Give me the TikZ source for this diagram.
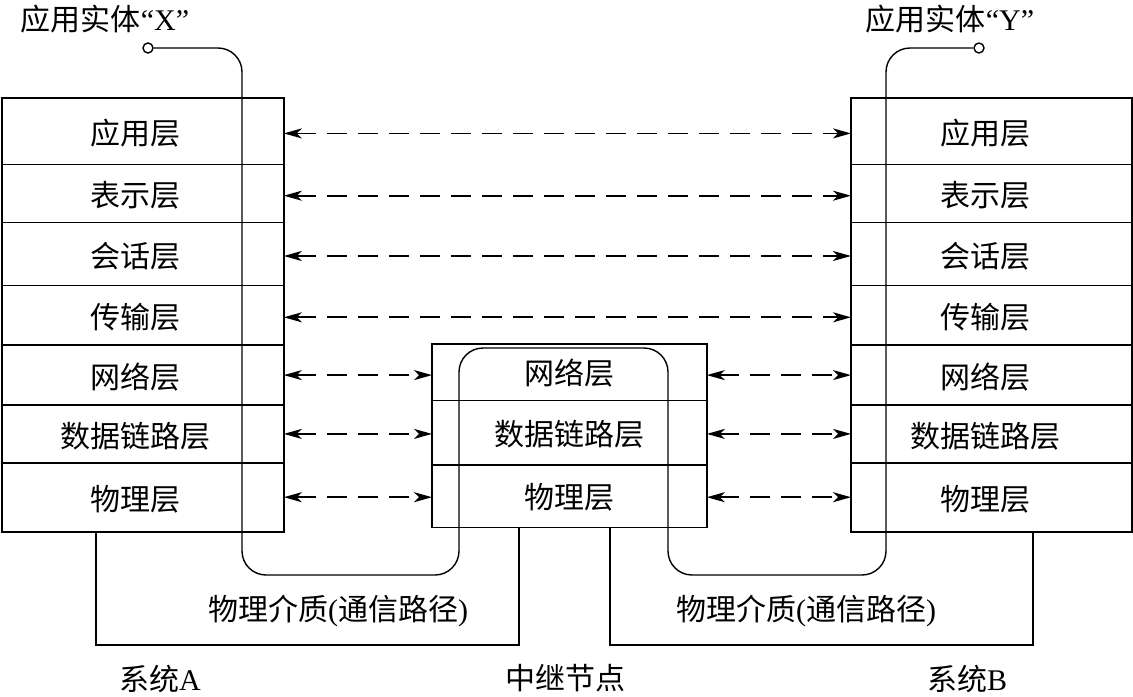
\documentclass[tikz,border=0pt]{standalone}
\usepackage{fontspec}
\setmainfont{Liberation Serif}
\newfontfamily\cjk{Noto Sans CJK SC}
\usetikzlibrary{arrows.meta,calc}
\begin{document}
\begin{tikzpicture}[x=0.5pt,y=-0.5pt,
  cell/.style={draw=none,inner sep=0pt,anchor=north west},
  lbl/.style={font=\fontsize{15pt}{18pt}\selectfont\cjk,inner sep=0pt},
  frame/.style={line width=0.9pt},
  divthin/.style={line width=0.4pt},
  divthick/.style={line width=0.9pt},
  wire/.style={line width=0.7pt,rounded corners=12pt},
  port/.style={circle,draw,line width=0.7pt,fill=white,inner sep=0pt,minimum size=5pt},
  dasharrow/.style={line width=0.9pt,dash pattern=on 10pt off 5.5pt,
     {Stealth[length=9pt,width=5pt,inset=2.5pt]}-{Stealth[length=9pt,width=5pt,inset=2.5pt]}}
]
\useasboundingbox (0,0) rectangle (1133,696);
% left stack
\node[cell,minimum width=140.5pt,minimum height=33pt] (a1) at (2,98) {};
\node[cell,minimum width=140.5pt,minimum height=28.5pt] (a2) at (a1.south west) {};
\node[cell,minimum width=140.5pt,minimum height=31pt] (a3) at (a2.south west) {};
\node[cell,minimum width=140.5pt,minimum height=29.5pt] (a4) at (a3.south west) {};
\node[cell,minimum width=140.5pt,minimum height=29.5pt] (a5) at (a4.south west) {};
\node[cell,minimum width=140.5pt,minimum height=28.5pt] (a6) at (a5.south west) {};
\node[cell,minimum width=140.5pt,minimum height=34pt] (a7) at (a6.south west) {};
% right stack
\node[cell,minimum width=140pt,minimum height=33pt] (b1) at (851,98) {};
\node[cell,minimum width=140pt,minimum height=28.5pt] (b2) at (b1.south west) {};
\node[cell,minimum width=140pt,minimum height=31pt] (b3) at (b2.south west) {};
\node[cell,minimum width=140pt,minimum height=29.5pt] (b4) at (b3.south west) {};
\node[cell,minimum width=140pt,minimum height=29.5pt] (b5) at (b4.south west) {};
\node[cell,minimum width=140pt,minimum height=28.5pt] (b6) at (b5.south west) {};
\node[cell,minimum width=140pt,minimum height=34pt] (b7) at (b6.south west) {};
% middle box
\node[cell,minimum width=137pt,minimum height=28pt] (m1) at (432,344) {};
\node[cell,minimum width=137pt,minimum height=31.5pt] (m2) at (m1.south west) {};
\node[cell,minimum width=137pt,minimum height=31pt] (m3) at (m2.south west) {};
% frames
\draw[frame] (a1.north west) rectangle (a7.south east);
\draw[frame] (b1.north west) rectangle (b7.south east);
\draw[frame] (m1.north west) rectangle (m3.south east);
\foreach \n in {a,b}{
  \draw[divthin] (\n1.south west) -- (\n1.south east);
  \draw[divthin] (\n2.south west) -- (\n2.south east);
  \draw[divthick] (\n3.south west) -- (\n3.south east);
  \draw[divthick] (\n4.south west) -- (\n4.south east);
  \draw[divthick] (\n5.south west) -- (\n5.south east);
  \draw[divthick] (\n6.south west) -- (\n6.south east);
}
\draw[divthin] (m1.south west) -- (m1.south east);
\draw[divthick] (m2.south west) -- (m2.south east);
% labels
\foreach \n/\t in {1/应用层,2/表示层,3/会话层,4/传输层,5/网络层,6/数据链路层,7/物理层}{
  \node[lbl] at ([xshift=-3.5pt,yshift=-1pt]a\n.center) {\t};
  \node[lbl] at ([xshift=-3pt,yshift=-1pt]b\n.center) {\t};
}
\node[lbl] at ([yshift=-0.5pt]m1.center) {网络层};
\node[lbl] at ([yshift=-0.5pt]m2.center) {数据链路层};
\node[lbl] at ([yshift=-0.5pt]m3.center) {物理层};
% arrows
\foreach \n in {1,2,3,4}{
  \draw[dasharrow] ([yshift=-1pt]a\n.east) -- ([yshift=-1pt]b\n.west);
}
\foreach \n in {1,2,3}{
  \pgfmathtruncatemacro{\k}{\n+4}
  \draw[dasharrow] (a\k.east) -- (a\k.east -| m1.west);
  \draw[dasharrow] (b\k.west -| m1.east) -- (b\k.west);
}
% ports and entity labels
\node[port] (X) at (148,48) {};
\node[port] (Y) at (979,48) {};
\node[font=\fontsize{15pt}{18pt}\selectfont,inner sep=0pt] (lx) at (105,19) {{\cjk 应用实体}“X”};
\node[font=\fontsize{15pt}{18pt}\selectfont,inner sep=0pt] (ly) at (950,19) {{\cjk 应用实体}“Y”};
% signal path
\draw[wire] (X.east) -- (242,48) -- (242,575) -- (459,575) -- (459,348) -- (668,348) -- (668,575) -- (886,575) -- (886,48) -- (Y.west);
% physical media
\draw[line width=0.7pt] (96,0 |- a7.south) -- (96,645) -- (519,645) -- (519,0 |- m3.south);
\draw[line width=0.7pt] (610,0 |- m3.south) -- (610,645) -- (1033,645) -- (1033,0 |- b7.south);
\node[font=\fontsize{15pt}{18pt}\selectfont,inner sep=0pt] (pm1) at (338,611) {{\cjk 物理介质}({\cjk 通信路径})};
\node[font=\fontsize{15pt}{18pt}\selectfont,inner sep=0pt] (pm2) at (806,611) {{\cjk 物理介质}({\cjk 通信路径})};
\node[font=\fontsize{15pt}{18pt}\selectfont,inner sep=0pt] (sa) at (160,679) {{\cjk 系统}A};
\node[font=\fontsize{15pt}{18pt}\selectfont,inner sep=0pt] (rn) at (565,678) {\cjk 中继节点};
\node[font=\fontsize{15pt}{18pt}\selectfont,inner sep=0pt] (sb) at (967,679) {{\cjk 系统}B};
\end{tikzpicture}
\end{document}
